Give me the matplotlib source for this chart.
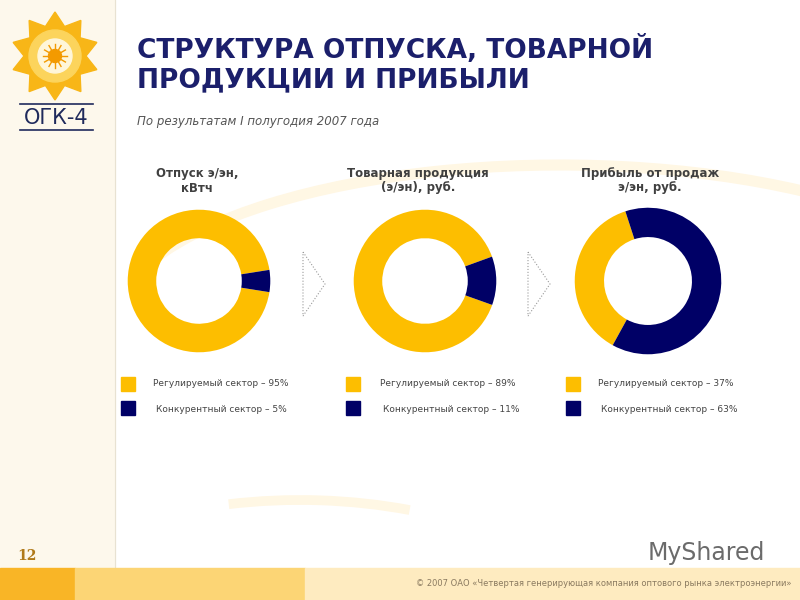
import numpy as np
import matplotlib.pyplot as plt
from matplotlib.patches import Polygon, Rectangle, Circle, Arc

# data
titles = ["Отпуск э/эн,\nкВтч", "Товарная продукция\n(э/эн), руб.", "Прибыль от продаж\nэ/эн, руб."]
regulated = [95, 89, 37]
competitive = [5, 11, 63]
start_angles = [9, 20, 108]
leg_reg = "Регулируемый сектор – {}%"
leg_comp = "Конкурентный сектор – {}%"

YEL = "#FDBE00"
NAVY = "#000066"

fig = plt.figure(figsize=(8, 6), dpi=100)
bg = fig.add_axes([0, 0, 1, 1])
bg.set_xlim(0, 800)
bg.set_ylim(600, 0)
bg.axis("off")

# left panel and bottom strip
bg.add_patch(Rectangle((0, 0), 115, 568, color="#FDF8EC", zorder=0))
bg.plot([115, 115], [0, 568], color="#E8E2D2", lw=0.8, zorder=1)
bg.add_patch(Rectangle((0, 568), 75, 32, color="#F9B526", zorder=1))
bg.add_patch(Rectangle((75, 568), 230, 32, color="#FCD575", zorder=1))
bg.add_patch(Rectangle((305, 568), 495, 32, color="#FEEBC0", zorder=1))

# faint background swooshes
for cx, cy, w, h, t1, t2, lw in [(560, 330, 900, 330, 190, 330, 8),
                                  (620, 60, 700, 260, 200, 340, 5),
                                  (300, 700, 700, 400, 250, 300, 7)]:
    bg.add_patch(Arc((cx, cy), w, h, theta1=t1, theta2=t2, color="#FFF7E4",
                     lw=lw, zorder=0.5))

# logo
ang = np.linspace(0, 2 * np.pi, 21)[:-1] + np.pi / 2
rad = np.where(np.arange(20) % 2 == 0, 44, 31)
bg.add_patch(Polygon(np.c_[55 + rad * np.cos(ang), 56 - rad * np.sin(ang)],
                     closed=True, color="#F8B617", zorder=2))
bg.add_patch(Circle((55, 56), 26, color="#FCD45C", zorder=3))
bg.add_patch(Circle((55, 56), 17, color="#FFF6DA", zorder=4))
for a in np.linspace(0, 2 * np.pi, 13)[:-1]:
    bg.plot([55 + 7 * np.cos(a), 55 + 12 * np.cos(a)],
            [56 + 7 * np.sin(a), 56 + 12 * np.sin(a)], color="#F39A00", lw=1, zorder=5)
bg.add_patch(Circle((55, 56), 6.5, color="#F39A00", zorder=5))
bg.plot([20, 93], [104, 104], color="#1F2A5C", lw=1.2)
bg.plot([20, 93], [130, 130], color="#1F2A5C", lw=1.2)
bg.text(56, 118, "ОГК-4", fontsize=15, color="#1F2A5C", ha="center", va="center")

# headings
bg.text(137, 64, "СТРУКТУРА ОТПУСКА, ТОВАРНОЙ\nПРОДУКЦИИ И ПРИБЫЛИ", fontsize=19,
        fontweight="bold", color="#1B1F6B", ha="left", va="center", linespacing=1.2)
bg.text(137, 121, "По результатам I полугодия 2007 года", fontsize=8.5,
        style="italic", color="#555555", ha="left", va="center")

centers = [(199, 281, 72), (425, 281, 72), (648, 281, 74)]
title_x = [197, 418, 650]
leg_sq_x = [121, 346, 566]
leg_tx_x = [153, 380, 598]

for i in range(3):
    cx, cy, r = centers[i]
    ax = fig.add_axes([(cx - r) / 800, 1 - (cy + r) / 600, 2 * r / 800, 2 * r / 600])
    ax.pie([regulated[i], competitive[i]], colors=[YEL, NAVY], startangle=start_angles[i],
           counterclock=True, radius=1, wedgeprops=dict(width=0.4, linewidth=0))
    ax.set_xlim(-1.01, 1.01)
    ax.set_ylim(-1.01, 1.01)
    ax.axis("off")

    bg.text(title_x[i], 181, titles[i], fontsize=8.5, fontweight="bold", color="#404040",
            ha="center", va="center", linespacing=1.1)

    bg.add_patch(Rectangle((leg_sq_x[i], 377), 14, 14, color=YEL, zorder=3))
    bg.add_patch(Rectangle((leg_sq_x[i], 401), 14, 14, color=NAVY, zorder=3))
    bg.text(leg_tx_x[i], 384, leg_reg.format(regulated[i]), fontsize=6.5,
            color="#444444", va="center")
    bg.text(leg_tx_x[i] + 3, 409, leg_comp.format(competitive[i]), fontsize=6.5,
            color="#444444", va="center")

# arrows between donuts
for x0 in [303, 528]:
    bg.add_patch(Polygon([[x0, 252], [x0 + 22, 284], [x0, 316]], closed=True, fill=False,
                         ec="#999999", lw=0.8, ls=":", zorder=3))

# footer
bg.text(27, 556, "12", fontsize=10, fontweight="bold", color="#B07A1A",
        ha="center", va="center", family="serif")
bg.text(792, 584, "© 2007 ОАО «Четвертая генерирующая компания оптового рынка электроэнергии»",
        fontsize=6, color="#8A7A60", ha="right", va="center")
bg.text(648, 553, "MyShared", fontsize=17, color="#6B6B6B", ha="left", va="center")

fig.savefig("out.png", dpi=100)
